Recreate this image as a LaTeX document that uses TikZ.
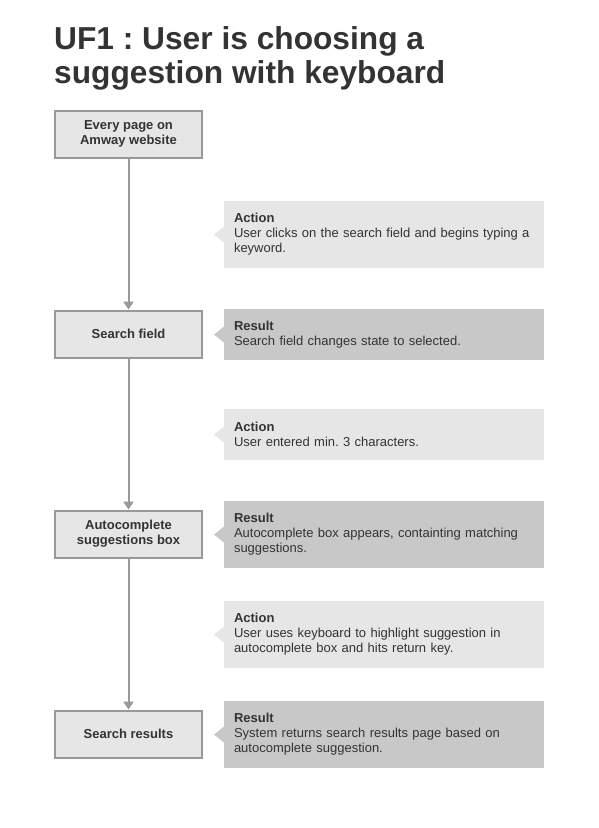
\documentclass[tikz,border=0pt]{standalone}
\usepackage{fontspec}
\setmainfont{Liberation Sans}
\usetikzlibrary{arrows.meta}
\frenchspacing

\definecolor{ink}{HTML}{333333}
\definecolor{boxline}{HTML}{999999}
\definecolor{boxfill}{HTML}{E6E6E6}
\definecolor{actfill}{HTML}{E6E6E6}
\definecolor{resfill}{HTML}{C8C8C8}

\tikzset{
  titletext/.style={anchor=base west, inner sep=0, text=ink,
    font=\fontsize{31.7}{34}\selectfont\bfseries},
  flowbox/.style={draw=boxline, line width=2pt, fill=boxfill,
    minimum width=147pt, minimum height=47pt, align=center, text=ink,
    font=\fontsize{13}{15}\selectfont\bfseries},
  notebox/.style={anchor=west, outer sep=0, inner xsep=10pt, inner ysep=0,
    text width=300pt, minimum width=320pt, align=left, text=ink,
    font=\fontsize{13}{15}\selectfont},
  actionbox/.style={notebox, fill=actfill},
  resultbox/.style={notebox, fill=resfill},
  flowarrow/.style={draw=boxline, line width=2pt,
    -{Triangle[width=10pt,length=8pt]}},
}

% pointer on the left edge of a note box
\newcommand{\notepointer}[2]{%
  \fill[#2] (#1.west) ++(0,-8) -- ++(-10,8) -- ++(10,8) -- cycle;}

\begin{document}
\begin{tikzpicture}[x=1pt,y=-1pt]
  \useasboundingbox[fill=white] (0,0) rectangle (598,828);

  % heading
  \node[titletext] (title1) at (54,49) {UF1 : User is choosing a};
  \node[titletext] (title2) at (54,83) {suggestion with keyboard};

  % flow steps
  \node[flowbox] (start)   at (128.5,134) {Every page on\\Amway website};
  \node[flowbox] (field)   at (128.5,334) {Search field};
  \node[flowbox] (autobox) at (128.5,534) {Autocomplete\\suggestions box};
  \node[flowbox] (results) at (128.5,734) {Search results};

  \draw[flowarrow] (start.south)   -- (field.north);
  \draw[flowarrow] (field.south)   -- (autobox.north);
  \draw[flowarrow] (autobox.south) -- (results.north);

  % actions and results
  \node[actionbox, minimum height=67pt] (act1) at (224,234.5)
    {\textbf{Action}\\User clicks on the search field and begins typing a\\keyword.};
  \node[resultbox, minimum height=51pt] (res1) at (224,334.5)
    {\textbf{Result}\\Search field changes state to selected.};
  \node[actionbox, minimum height=51pt] (act2) at (224,434.5)
    {\textbf{Action}\\User entered min. 3 characters.};
  \node[resultbox, minimum height=67pt] (res2) at (224,534.5)
    {\textbf{Result}\\Autocomplete box appears, containting matching\\suggestions.};
  \node[actionbox, minimum height=67pt] (act3) at (224,634.5)
    {\textbf{Action}\\User uses keyboard to highlight suggestion in\\autocomplete box and hits return key.};
  \node[resultbox, minimum height=67pt] (res3) at (224,734.5)
    {\textbf{Result}\\System returns search results page based on\\autocomplete suggestion.};

  \notepointer{act1}{actfill}
  \notepointer{res1}{resfill}
  \notepointer{act2}{actfill}
  \notepointer{res2}{resfill}
  \notepointer{act3}{actfill}
  \notepointer{res3}{resfill}
\end{tikzpicture}
\end{document}
